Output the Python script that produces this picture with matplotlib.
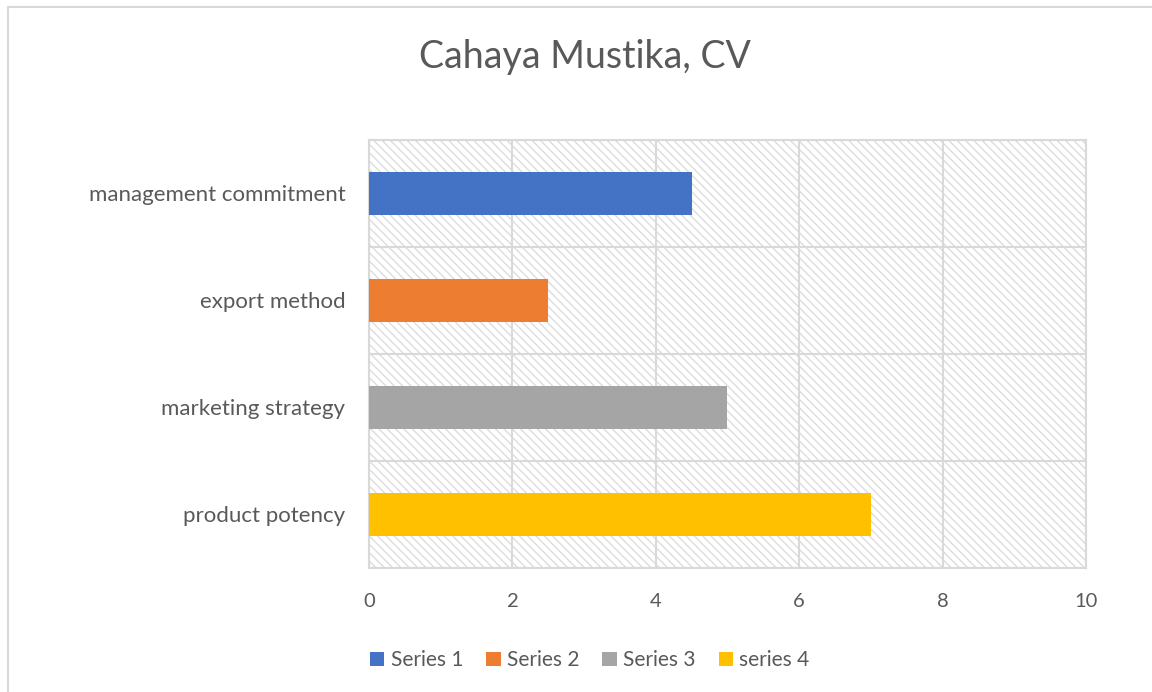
import matplotlib.pyplot as plt
from matplotlib.patches import Rectangle

categories = ['product potency', 'marketing strategy', 'export method', 'management commitment']
values = [7, 5, 2.5, 4.5]
series_names = ['series 4', 'Series 3', 'Series 2', 'Series 1']
colors = ['#ffc000', '#a5a5a5', '#ed7d31', '#4472c4']

plt.rcParams['font.family'] = ['Lato', 'DejaVu Sans']
plt.rcParams['hatch.linewidth'] = 1.0
plt.rcParams['hatch.color'] = '#dcdcdc'

fig = plt.figure(figsize=(11.52, 6.92), dpi=100)
ax = fig.add_axes([0.3203, 0.1792, 0.6224, 0.6185])

# outer chart border
fig.patches.append(Rectangle((8 / 1152, -0.1), 1.2, 1 - 7 / 692 + 0.1, transform=fig.transFigure,
                             fill=False, edgecolor='#d9d9d9', linewidth=1.5))

# hatched plot area
ax.add_patch(Rectangle((0, 0), 1, 1, transform=ax.transAxes, facecolor='white',
                       edgecolor='#dcdcdc', hatch='\\\\\\\\', linewidth=0, zorder=0))

bars = []
for i, (cat, v, name, c) in enumerate(zip(categories, values, series_names, colors)):
    b = ax.barh(i, v, height=0.4, color=c, label=name, zorder=3)
    bars.append(b)

ax.set_xlim(0, 10)
ax.set_ylim(-0.5, len(categories) - 0.5)
ax.set_xticks(range(0, 11, 2))
ax.set_yticks(range(len(categories)))
ax.set_yticklabels(categories)
ax.set_yticks([i + 0.5 for i in range(-1, len(categories))], minor=True)
ax.grid(axis='x', color='#d9d9d9', linewidth=1.5, zorder=1)
ax.grid(axis='y', which='minor', color='#d9d9d9', linewidth=1.5, zorder=1)
ax.tick_params(which='both', length=0, colors='#595959')
ax.tick_params(axis='y', labelsize=16, pad=17)
ax.tick_params(axis='x', labelsize=14.5, pad=18)
for s in ax.spines.values():
    s.set_color('#d9d9d9')
    s.set_linewidth(1.5)

fig.text(0.508, 0.918, 'Cahaya Mustika, CV', ha='center', va='center', fontsize=27, color='#595959')

handles = bars[::-1]
labels = series_names[::-1]
fig.legend(handles, labels, loc='center', bbox_to_anchor=(0.512, 0.046), ncol=4, frameon=False,
           fontsize=15, labelcolor='#595959', handlelength=0.7, handleheight=0.7,
           handletextpad=0.3, columnspacing=1.1)

fig.savefig('out.png', dpi=100)
